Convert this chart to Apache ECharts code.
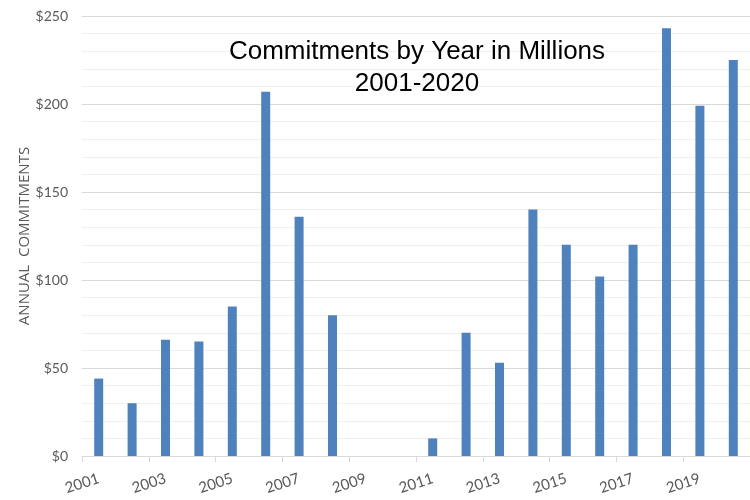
<!DOCTYPE html>
<html>
<head>
<meta charset="utf-8">
<script src="https://cdn.jsdelivr.net/npm/echarts@6/dist/echarts.min.js"></script>
<style>
  html, body { margin: 0; padding: 0; background: #fff; }
  #chart { width: 750px; height: 500px; }
</style>
</head>
<body>
<div id="chart"></div>
<script>
// Annual commitments, millions of dollars
const years = ['2001','2002','2003','2004','2005','2006','2007','2008','2009','2010',
               '2011','2012','2013','2014','2015','2016','2017','2018','2019','2020'];
const commitments = [44, 30, 66, 65, 85, 207, 136, 80, 0, 0,
                     10, 70, 53, 140, 120, 102, 120, 243, 199, 225];
const yTicks = [0, 50, 100, 150, 200, 250];

const chart = echarts.init(document.getElementById('chart'));
chart.setOption({
  animation: false,
  backgroundColor: '#ffffff',
  title: {
    text: 'Commitments by Year in Millions\n2001-2020',
    left: 412,
    top: 31,
    textAlign: 'center',
    textStyle: {
      fontFamily: 'Liberation Sans',
      fontSize: 26,
      fontWeight: 'normal',
      color: '#000000',
      lineHeight: 32,
      textBorderColor: '#ffffff',
      textBorderWidth: 2
    }
  },
  grid: { left: 82, right: -2, top: 16, bottom: 44, containLabel: false },
  xAxis: {
    type: 'category',
    data: years,
    axisLine: { show: true, lineStyle: { color: '#d9d9d9', width: 1 } },
    axisTick: { show: true, length: 6, lineStyle: { color: '#d9d9d9' } },
    axisLabel: {
      interval: 1,
      rotate: 18,
      margin: 22,
      fontFamily: 'Lato',
      fontSize: 15,
      color: '#595959'
    }
  },
  yAxis: {
    type: 'value',
    min: yTicks[0],
    max: yTicks[yTicks.length - 1],
    interval: 50,
    name: 'ANNUAL  COMMITMENTS',
    nameLocation: 'middle',
    nameGap: 50,
    nameMoveOverlap: false,
    nameTextStyle: { fontFamily: 'Open Sans', fontSize: 15, color: '#595959' },
    axisLine: { show: false },
    axisTick: { show: false },
    axisLabel: {
      margin: 14,
      fontFamily: 'Lato',
      fontSize: 14,
      color: '#595959',
      formatter: v => '$' + v
    },
    splitLine: { show: true, lineStyle: { color: '#d9d9d9', width: 1 } },
    minorTick: { show: false, splitNumber: 5 },
    minorSplitLine: { show: true, lineStyle: { color: '#f0f0f0', width: 1 } }
  },
  series: [{
    type: 'bar',
    data: commitments,
    barWidth: 9,
    itemStyle: { color: '#4f81bd' }
  }]
});
</script>
</body>
</html>
